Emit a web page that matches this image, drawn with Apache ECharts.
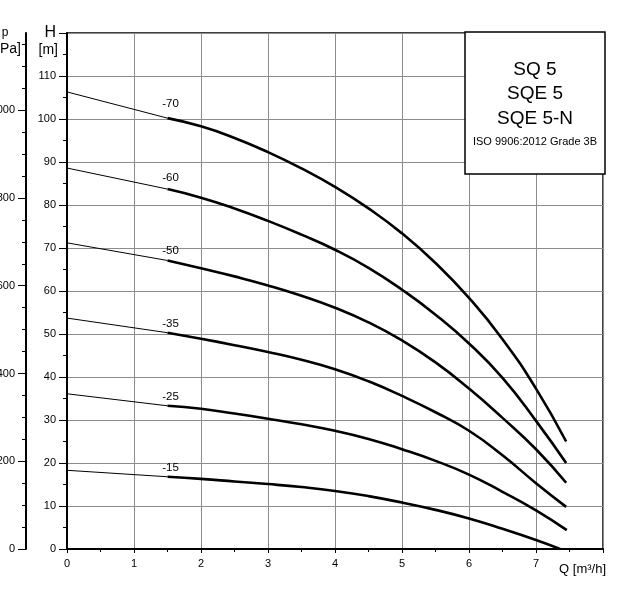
<!DOCTYPE html>
<html>
<head>
<meta charset="utf-8">
<script src="https://cdn.jsdelivr.net/npm/echarts@6/dist/echarts.min.js"></script>
<style>
  body { margin: 0; background: #fff; }
  #Pump_Chart { width: 630px; height: 594px; }
</style>
</head>
<body>
<div id="Pump_Chart"></div>
<script>
// curve data (Q in m3/h, H in m)
var flowThin = [0, 1.5];
var flowThick = [1.5, 2, 2.5, 3, 3.5, 4, 4.5, 5, 5.5, 6, 6.5, 7];
var curveNames = ['-70', '-60', '-50', '-35', '-25', '-15'];
var shutoffHead = [106.3, 88.6, 71.2, 53.7, 36.1, 18.3];
var head70 = [100.2, 98.3, 95.6, 92.3, 88.5, 84.2, 79.2, 73.4, 66.5, 58.4, 48.8, 37.3];
var head60 = [83.7, 81.7, 79.2, 76.3, 73.1, 69.6, 65.4, 60.3, 54.5, 47.8, 39.8, 29.8];
var head50 = [67.1, 65.3, 63.4, 61.3, 58.9, 56.1, 52.7, 48.5, 43.4, 37.3, 30.5, 23.2];
var head35 = [50.3, 48.9, 47.4, 45.8, 44.0, 41.8, 39.0, 35.6, 31.8, 27.5, 21.8, 15.3];
var head25 = [33.3, 32.6, 31.5, 30.3, 29.0, 27.5, 25.6, 23.2, 20.5, 17.3, 13.3, 9.0];
var head15 = [16.8, 16.3, 15.7, 15.1, 14.4, 13.5, 12.3, 10.8, 9.1, 7.1, 4.7, 2.1];
var endFlow = [7.45, 7.45, 7.45, 7.45, 7.46, 7.36];
var endHead = [25.0, 20.0, 15.4, 9.8, 4.4, 0];
var pressureTicks = [0, 200, 400, 600, 800, 1000];
var modelLines = ['SQ 5', 'SQE 5', 'SQE 5-N'];
var isoText = 'ISO 9906:2012 Grade 3B';

var headLists = [head70, head60, head50, head35, head25, head15];
var labelGap = [8, 5, 4, 3, 3, 3]; // label distance above curve
var FONT = '"Liberation Sans", Arial, sans-serif';

function PumpChart() {
  var dom = document.getElementById('Pump_Chart');
  var myChart = echarts.init(dom, null, { renderer: 'canvas' });

  var series = [];
  for (var i = 0; i < headLists.length; i++) {
    // thin part 0 ~ 1.5
    series.push({
      type: 'line',
      data: [[flowThin[0], shutoffHead[i]], [flowThin[1], headLists[i][0]]],
      symbol: 'none',
      lineStyle: { color: '#000', width: 1 },
      silent: true
    });
    // thick part 1.5 ~ end
    var pts = [];
    for (var k = 0; k < flowThick.length; k++) {
      pts.push([flowThick[k], headLists[i][k]]);
    }
    pts.push([endFlow[i], endHead[i]]);
    series.push({
      type: 'line',
      data: pts,
      smooth: true,
      symbol: 'none',
      lineStyle: { color: '#000', width: 2.6 },
      silent: true,
      markPoint: {
        symbol: 'circle', symbolSize: 0, silent: true,
        label: {
          show: true, position: 'top', distance: labelGap[i], offset: [3, 0],
          color: '#000', fontSize: 11.5, fontFamily: FONT,
          formatter: curveNames[i]
        },
        data: [{ coord: [flowThick[0], headLists[i][0]] }]
      }
    });
  }

  var graphic = [
    { type: 'rect', z: 100, shape: { x: 465, y: 32, width: 140, height: 142 },
      style: { fill: '#fff', stroke: '#000', lineWidth: 1.5 } },
    { type: 'text', z: 101, x: 5, y: 33,
      style: { text: 'p', font: '12px ' + FONT, fill: '#000', textAlign: 'center', textVerticalAlign: 'middle' } },
    { type: 'text', z: 101, x: 21, y: 49,
      style: { text: '[kPa]', font: '14px ' + FONT, fill: '#000', textAlign: 'right', textVerticalAlign: 'middle' } },
    { type: 'text', z: 101, x: 58, y: 50,
      style: { text: '[m]', font: '14px ' + FONT, fill: '#000', textAlign: 'right', textVerticalAlign: 'middle' } },
    { type: 'text', z: 101, x: 606, y: 569,
      style: { text: 'Q [m³/h]', font: '13px ' + FONT, fill: '#000', textAlign: 'right', textVerticalAlign: 'middle' } }
  ];
  var lineY = [70, 94, 119];
  for (var j = 0; j < modelLines.length; j++) {
    graphic.push({ type: 'text', z: 101, x: 535, y: lineY[j],
      style: { text: modelLines[j], font: '19px ' + FONT, fill: '#000', textAlign: 'center', textVerticalAlign: 'middle' } });
  }
  graphic.push({ type: 'text', z: 101, x: 535, y: 142,
    style: { text: isoText, font: '11px ' + FONT, fill: '#000', textAlign: 'center', textVerticalAlign: 'middle' } });

  var option = {
    animation: false,
    backgroundColor: '#fff',
    grid: {
      left: 67, right: 27, top: 33, bottom: 45,
      outerBoundsMode: 'none', containLabel: false,
      show: true, borderColor: '#000', borderWidth: 1.5, backgroundColor: 'transparent'
    },
    xAxis: {
      type: 'value', min: 0, max: 8, interval: 1,
      axisLine: { lineStyle: { color: '#000', width: 2 } },
      axisTick: { length: 4, lineStyle: { color: '#000' } },
      minorTick: { show: true, splitNumber: 2, length: 3, lineStyle: { color: '#000' } },
      splitLine: { show: true, lineStyle: { color: '#8c8c8c', width: 1 } },
      axisLabel: {
        color: '#000', fontSize: 11, fontFamily: FONT, margin: 9,
        formatter: function (v) { return v === 8 ? '' : String(v); }
      }
    },
    yAxis: [{
      type: 'value', min: 0, max: 120, interval: 10, position: 'left',
      axisLine: { show: true, lineStyle: { color: '#000', width: 2 } },
      axisTick: { show: true, length: 8, lineStyle: { color: '#000' } },
      minorTick: { show: true, splitNumber: 2, length: 4, lineStyle: { color: '#000' } },
      splitLine: { show: true, lineStyle: { color: '#8c8c8c', width: 1 } },
      axisLabel: {
        color: '#000', fontSize: 11, fontFamily: FONT, margin: 11,
        formatter: function (v) { return v === 120 ? '{h|H}' : String(v); },
        rich: { h: { fontSize: 16, fontFamily: FONT, color: '#000' } }
      }
    }, {
      type: 'value', min: 0, max: 1176, position: 'left', offset: 41,
      axisLine: { show: true, lineStyle: { color: '#000', width: 2 } },
      axisTick: { show: true, length: 8, customValues: pressureTicks, lineStyle: { color: '#000' } },
      minorTick: { show: true, splitNumber: 4, length: 4, lineStyle: { color: '#000' } },
      splitLine: { show: false },
      axisLabel: {
        color: '#000', fontSize: 11, fontFamily: FONT, margin: 11, customValues: pressureTicks,
        formatter: function (v) { return String(v); }
      }
    }],
    series: series,
    graphic: graphic
  };
  myChart.setOption(option);
  window.addEventListener('resize', myChart.resize);
}
PumpChart();
</script>
</body>
</html>
